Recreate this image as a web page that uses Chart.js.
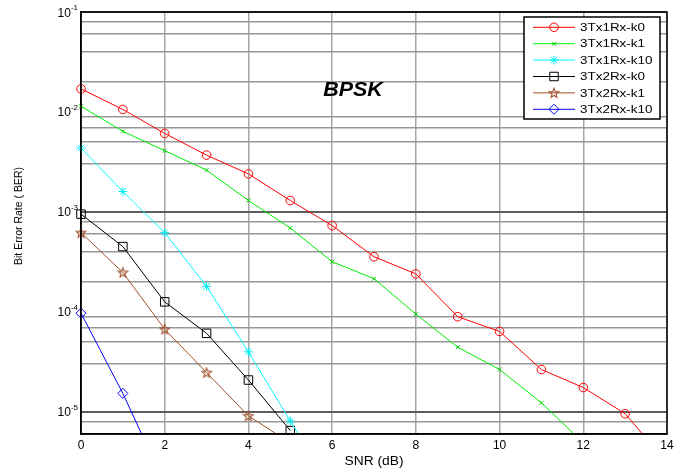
<!DOCTYPE html>
<html><head><meta charset="utf-8">
<script src="https://cdn.jsdelivr.net/npm/chart.js@4"></script>
<style>html,body{margin:0;padding:0;background:#fff;overflow:hidden}</style>
</head><body>
<canvas id="c" width="693" height="470"></canvas>
<script>
// ---- data ----
const snrRed   = [0,1,2,3,4,5,6,7,8,9,10,11,12,13,14];
const berRed   = [0.0170,0.0106,0.0061,0.0037,0.0024,0.0013,0.00073,0.000356,0.00024,0.0000895,0.0000637,0.0000265,0.0000175,0.00000957,0.0000031];
const snrGreen = [0,1,2,3,4,5,6,7,8,9,10,11,12];
const berGreen = [0.0114,0.0064,0.0041,0.00262,0.0013,0.00069,0.000317,0.000215,0.000095,0.0000443,0.0000265,0.0000123,0.0000049];
const snrCyan  = [0,1,2,3,4,5,6];
const berCyan  = [0.00435,0.0016,0.00062,0.00018,0.0000398,0.0000081,0.0000017];
const snrBlack = [0,1,2,3,4,5];
const berBlack = [0.00095,0.00045,0.000126,0.000061,0.0000208,0.0000065];
const snrBrown = [0,1,2,3,4,5];
const berBrown = [0.00062,0.000248,0.000067,0.0000247,0.0000091,0.0000049];
const snrBlue  = [0,1,2];
const berBlue  = [0.000097,0.0000153,0.0000019];
const seriesNames = ['3Tx1Rx-k0','3Tx1Rx-k1','3Tx1Rx-k10','3Tx2Rx-k0','3Tx2Rx-k1','3Tx2Rx-k10'];
const xTicks = [0,2,4,6,8,10,12,14];
const yDecades = [-1,-2,-3,-4,-5];
const yMin = 6e-6, yMax = 0.1;

const FONT = "'Liberation Sans', Arial, sans-serif";

// pentagram marker
function makeStar(color){
  const c = document.createElement('canvas'); c.width = 12; c.height = 12;
  const g = c.getContext('2d');
  g.strokeStyle = color; g.lineWidth = 1.1;
  g.beginPath();
  for (let i=0;i<10;i++){
    const r = i%2===0 ? 5.0 : 2.1;
    const a = -Math.PI/2 + i*Math.PI/5;
    const px = 6 + r*Math.cos(a), py = 6.4 + r*Math.sin(a);
    if(i===0) g.moveTo(px,py); else g.lineTo(px,py);
  }
  g.closePath(); g.stroke();
  return c;
}
const starImg = makeStar('#a0522d');

function pts(xs, ys){ return xs.map((x,i)=>({x:x, y:ys[i]})); }

const ds = [
  {label:seriesNames[0], data:pts(snrRed,berRed),     borderColor:'#ff0000', pointStyle:'circle',   pointRadius:4.3, pointBorderColor:'#ff0000'},
  {label:seriesNames[1], data:pts(snrGreen,berGreen), borderColor:'#00ee00', pointStyle:'crossRot', pointRadius:2.8, pointBorderColor:'#00cc00'},
  {label:seriesNames[2], data:pts(snrCyan,berCyan),   borderColor:'#00ffff', pointStyle:'star',     pointRadius:4.5, pointBorderColor:'#00eeee'},
  {label:seriesNames[3], data:pts(snrBlack,berBlack), borderColor:'#000000', pointStyle:'rect',     pointRadius:6,   pointBorderColor:'#000000'},
  {label:seriesNames[4], data:pts(snrBrown,berBrown), borderColor:'#a0522d', pointStyle:starImg,    pointRadius:6,   pointBorderColor:'#a0522d'},
  {label:seriesNames[5], data:pts(snrBlue,berBlue),   borderColor:'#0000ff', pointStyle:'rectRot',  pointRadius:5,   pointBorderColor:'#0000ff'}
].map(d=>Object.assign({borderWidth:1, pointBorderWidth:1, pointBackgroundColor:'rgba(0,0,0,0)', tension:0, fill:false,
  clip:{left:10, top:10, right:10, bottom:1}}, d));

function isDecade(v){ const l = Math.log10(v); return Math.abs(l-Math.round(l))<1e-9; }

const yTickVals = [];
for (let e=-6;e<=-1;e++){ for (let m=1;m<=9;m++){ const v = m*Math.pow(10,e); if (v>=yMin*0.999 && v<=yMax*1.001) yTickVals.push(+v.toPrecision(6)); } }

function stretchedText(ctx, text, x, y, sx, align){
  ctx.save(); ctx.translate(x, y); ctx.scale(sx, 1);
  ctx.textAlign = align; ctx.fillText(text, 0, 0); ctx.restore();
}

const drawPlugin = {
  id:'extras',
  afterDatasetsDraw(chart){
    const ctx = chart.ctx, a = chart.chartArea, ys = chart.scales.y;
    ctx.save();
    // frame
    ctx.strokeStyle = '#000'; ctx.lineWidth = 1.5;
    ctx.strokeRect(a.left, a.top, a.right-a.left, a.bottom-a.top);
    // y labels 10^n
    ctx.fillStyle = '#000';
    yDecades.forEach(n=>{
      const y = ys.getPixelForValue(Math.pow(10,n));
      ctx.font = '8px '+FONT; ctx.textAlign='right'; ctx.textBaseline='alphabetic';
      const sup = String(n);
      const sw = ctx.measureText(sup).width;
      ctx.fillText(sup, 78, y-2);
      ctx.font = '12px '+FONT;
      ctx.fillText('10', 78-sw, y+4.5);
    });
    // axis titles
    ctx.font = '12px '+FONT; ctx.textBaseline='middle';
    stretchedText(ctx, 'SNR (dB)', (a.left+a.right)/2, 462, 1.15, 'center');
    ctx.font = '10.5px '+FONT;
    ctx.save(); ctx.translate(19, 216); ctx.rotate(-Math.PI/2);
    ctx.textAlign='center'; ctx.fillText('Bit Error Rate ( BER)', 0, 0); ctx.restore();
    // BPSK
    ctx.font = 'italic bold 19.5px '+FONT; ctx.textBaseline='alphabetic';
    stretchedText(ctx, 'BPSK', 353, 96, 1.1, 'center');
    // legend
    const lx=524, ly=17, lw=136, lh=102;
    ctx.fillStyle='#fff'; ctx.fillRect(lx,ly,lw,lh);
    ctx.strokeStyle='#000'; ctx.lineWidth=1.5; ctx.strokeRect(lx,ly,lw,lh);
    chart.data.datasets.forEach((d,i)=>{
      const ry = 27.3 + i*16.4;
      ctx.strokeStyle = d.borderColor; ctx.lineWidth = 1;
      ctx.beginPath(); ctx.moveTo(533, ry); ctx.lineTo(575, ry); ctx.stroke();
      ctx.strokeStyle = d.pointBorderColor; ctx.fillStyle='rgba(0,0,0,0)';
      Chart.helpers.drawPoint(ctx, {pointStyle:d.pointStyle, radius:d.pointRadius, rotation:0, borderWidth:1}, 554, ry);
      ctx.fillStyle='#000'; ctx.font='11.6px '+FONT; ctx.textBaseline='middle';
      stretchedText(ctx, d.label, 580, ry+0.5, 1.16, 'left');
    });
    ctx.restore();
  }
};

new Chart(document.getElementById('c'), {
  type:'line',
  data:{datasets:ds},
  options:{
    responsive:false, animation:false, devicePixelRatio:1,
    layout:{padding:{top:12, right:26, left:0, bottom:0}},
    plugins:{legend:{display:false}, tooltip:{enabled:false}},
    scales:{
      x:{type:'linear', min:0, max:14,
        afterBuildTicks(s){ s.ticks = xTicks.map(v=>({value:v})); },
        afterFit(s){ s.height = 36; },
        grid:{color:'#a6a6a6', lineWidth:1.5, drawTicks:false},
        border:{display:true, color:'#000', width:1.5},
        ticks:{color:'#000', font:{family:FONT, size:12}, padding:4, maxRotation:0}
      },
      y:{type:'logarithmic', min:yMin, max:yMax,
        afterBuildTicks(s){ s.ticks = yTickVals.map(v=>({value:v})); },
        afterFit(s){ s.width = 81; },
        grid:{drawTicks:false,
          color:(c)=> c.tick && isDecade(c.tick.value) ? '#5e5e5e' : '#979797',
          lineWidth:(c)=> c.tick && isDecade(c.tick.value) ? 2 : 1.5},
        border:{display:true, color:'#000', width:1.5},
        ticks:{callback:()=>'', padding:0}
      }
    }
  },
  plugins:[drawPlugin]
});
</script>
</body></html>
